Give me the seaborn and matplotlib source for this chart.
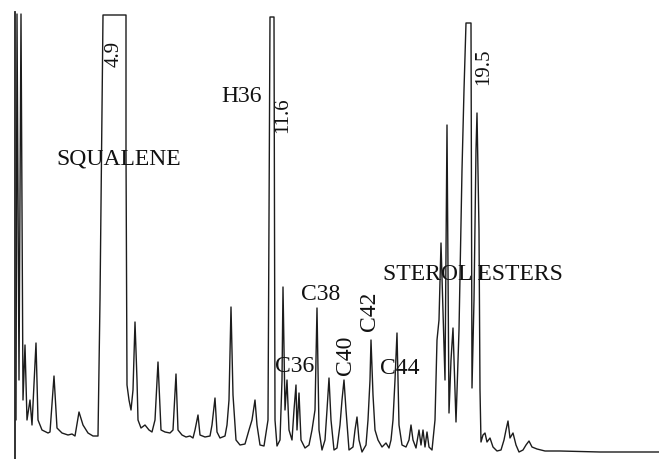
import numpy as np
import pandas as pd
import matplotlib
matplotlib.use('Agg')
import matplotlib.pyplot as plt
import seaborn as sns

# Chromatogram trace (x = retention position, y = detector signal,
# off-scale peaks are flat at the pen limit)
retention = [16, 17, 19, 21, 23, 25, 27, 30, 32, 36, 38, 42, 48, 50, 54, 57, 62, 68, 72, 75,
             79, 83, 88, 93, 98, 100, 103, 126, 126, 127, 129, 131, 133, 135, 137, 138, 141,
             145, 149, 152, 155, 158, 161, 165, 170, 173, 176, 178, 182, 186, 190, 193, 195,
             198, 200, 205, 210, 212, 215, 217, 220, 225, 227, 229, 231, 233, 236, 240, 245,
             249, 252, 255, 257, 260, 264, 268, 270, 274, 275, 277, 280, 282, 283, 285, 287,
             289, 292, 294, 296, 297, 299, 301, 305, 309, 312, 315, 317, 319, 322, 325, 327,
             329, 331, 334, 337, 340, 342, 344, 346, 349, 353, 355, 357, 359, 362, 366, 368,
             370, 371, 373, 375, 378, 382, 386, 389, 391, 393, 395, 397, 399, 402, 406, 409,
             411, 413, 416, 419, 421, 423, 425, 427, 429, 432, 435, 437, 439, 441, 443, 445,
             447, 449, 451, 453, 456, 459, 462, 464, 466, 471, 472, 474, 476, 477, 479, 480,
             481, 483, 485, 487, 490, 493, 497, 501, 504, 506, 508, 510, 513, 516, 519, 523,
             526, 529, 532, 537, 545, 560, 600, 640, 659]
signal = [32, 438, 72, 438, 52, 107, 32, 52, 27, 109, 32, 22, 19, 20, 76, 24, 19, 17, 18, 16,
          40, 27, 19, 16, 16, 152, 437, 437, 302, 67, 52, 42, 62, 130, 72, 32, 24,
          27, 22, 20, 32, 90, 22, 20, 19, 22, 78, 22, 17, 15, 16, 14, 22,
          37, 17, 15, 16, 27, 54, 20, 14, 16, 27, 52, 145, 57, 12, 7, 8,
          22, 32, 52, 27, 7, 6, 32, 435, 435, 32, 6, 12, 72, 165, 42, 72,
          22, 12, 42, 67, 22, 59, 12, 4, 7, 22, 42, 144, 22, 2, 12, 42,
          74, 32, 2, 4, 27, 52, 72, 42, 2, 5, 22, 35, 12, 0, 7, 32,
          72, 112, 57, 22, 12, 5, 9, 4, 12, 32, 72, 119, 27, 7, 5, 12,
          27, 12, 4, 22, 7, 22, 5, 20, 5, 2, 32, 112, 132, 209, 142, 72,
          327, 39, 92, 124, 30, 122, 282, 362, 429, 429, 64, 152, 302, 339, 222, 62,
          10, 17, 19, 10, 14, 5, 1, 2, 12, 22, 31, 14, 19, 7, 0, 2,
          7, 11, 5, 3, 1, 1, 0, 0, 0]

# peak annotations: (text, x, y, rotation, size)
labels = [
    ('4.9', 114, 398, 90, 15),
    ('SQUALENE', 119, 293, 0, 17),
    ('H36', 242, 355, 0, 17),
    ('11.6', 283, 337, 90, 15),
    ('19.5', 484, 385, 90, 15),
    ('STEROL ESTERS', 473, 177, 0, 17),
    ('C38', 321, 157, 0, 17),
    ('C36', 295, 86, 0, 17),
    ('C40', 346, 97, 90, 17),
    ('C42', 370, 141, 90, 17),
    ('C44', 400, 84, 0, 17),
]

sns.set_style('white')
plt.rcParams['font.family'] = ['Liberation Serif', 'DejaVu Serif']

df = pd.DataFrame({'retention': retention, 'signal': signal})

fig = plt.figure(figsize=(6.59, 4.59), dpi=100)
ax = fig.add_axes([15 / 659, 0, 644 / 659, 447 / 459])

sns.lineplot(data=df, x='retention', y='signal', sort=False, estimator=None,
             color='#1c1c1c', linewidth=1.0, ax=ax)

for text, x, y, rot, size in labels:
    ax.text(x, y, text, rotation=rot, fontsize=size, ha='center', va='center',
            color='#111111')

ax.set_xlim(15, 659)
ax.set_ylim(-7, 440)
ax.set_xlabel('')
ax.set_ylabel('')
ax.set_xticks([])
ax.set_yticks([])
for side in ['top', 'right', 'bottom']:
    ax.spines[side].set_visible(False)
ax.spines['left'].set_color('#222222')
ax.spines['left'].set_linewidth(1.3)

fig.savefig('out.png', dpi=100, facecolor='white')
